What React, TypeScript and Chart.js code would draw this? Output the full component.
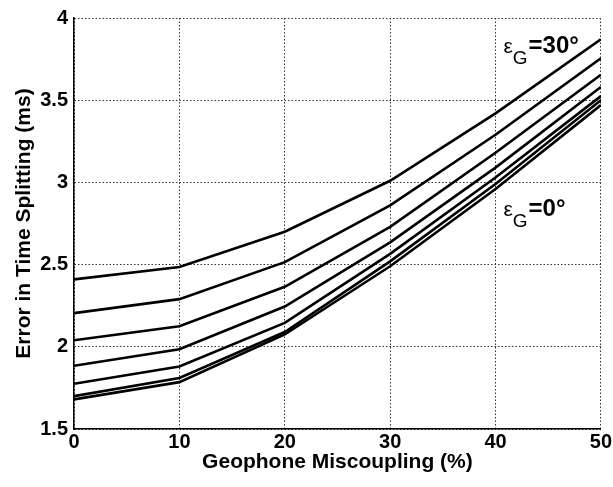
import React, { useEffect, useRef } from "react";
import { Chart, registerables } from "chart.js";

Chart.register(...registerables);

const miscoupling = [0, 10, 20, 30, 40, 50];
const epsG30 = [2.41, 2.485, 2.70, 3.01, 3.42, 3.87];
const epsG25 = [2.205, 2.29, 2.515, 2.86, 3.29, 3.755];
const epsG20 = [2.04, 2.125, 2.365, 2.73, 3.18, 3.655];
const epsG15 = [1.885, 1.985, 2.245, 2.635, 3.09, 3.58];
const epsG10 = [1.775, 1.88, 2.145, 2.565, 3.03, 3.525];
const epsG5 = [1.70, 1.81, 2.09, 2.52, 2.99, 3.50];
const epsG0 = [1.68, 1.785, 2.075, 2.49, 2.96, 3.47];
const seriesList = [epsG30, epsG25, epsG20, epsG15, epsG10, epsG5, epsG0];

const xTickValues = [0, 10, 20, 30, 40, 50];
const yTickValues = [1.5, 2, 2.5, 3, 3.5, 4];

const annotTop = { x: 40.75, y: 3.79, text: "=30°" };
const annotBottom = { x: 40.75, y: 2.796, text: "=0°" };

const FONT = '"Liberation Sans", Arial, Helvetica, sans-serif';

const labelPlugin = {
  id: "epsLabels",
  afterDatasetsDraw(chart: any) {
    const { ctx, scales } = chart;
    const xs = scales.x;
    const ys = scales.y;
    const draw = (a: { x: number; y: number; text: string }) => {
      const px = xs.getPixelForValue(a.x);
      const py = ys.getPixelForValue(a.y);
      ctx.save();
      ctx.fillStyle = "#000";
      ctx.textAlign = "left";
      ctx.textBaseline = "alphabetic";
      ctx.font = `21px ${FONT}`;
      ctx.fillText("ε", px, py);
      const we = ctx.measureText("ε").width;
      ctx.font = `19px ${FONT}`;
      const gx = px + we;
      ctx.fillText("G", gx, py + 11);
      const wg = ctx.measureText("G").width;
      ctx.font = `bold 24px ${FONT}`;
      ctx.fillText(a.text, gx + wg + 1, py);
      ctx.restore();
    };
    draw(annotTop);
    draw(annotBottom);
  },
};

export default function App() {
  const canvasRef = useRef<HTMLCanvasElement | null>(null);

  useEffect(() => {
    const canvas = canvasRef.current;
    if (!canvas) return;
    const datasets = seriesList.map((s) => ({
      data: miscoupling.map((m, i) => ({ x: m, y: s[i] })),
      borderColor: "#000",
      backgroundColor: "#000",
      borderWidth: 2.6,
      pointRadius: 0,
      tension: 0,
      fill: false,
    }));
    const chart = new Chart(canvas, {
      type: "line",
      data: { datasets },
      plugins: [labelPlugin],
      options: {
        animation: false,
        responsive: true,
        maintainAspectRatio: false,
        layout: { padding: { top: 18, right: 12, left: 0, bottom: 0 } },
        plugins: {
          legend: { display: false },
          tooltip: { enabled: false },
        },
        scales: {
          x: {
            type: "linear",
            min: 0,
            max: 50,
            afterBuildTicks: (scale: any) => {
              scale.ticks = xTickValues.map((v) => ({ value: v }));
            },
            afterFit: (scale: any) => {
              scale.height = 58;
            },
            ticks: {
              color: "#000",
              font: { family: FONT, size: 20, weight: "bold" },
              padding: 1,
              maxRotation: 0,
              autoSkip: false,
            },
            grid: {
              color: "#333",
              lineWidth: 1,
              drawTicks: false,
            },
            border: { display: true, color: "#000", width: 1.5, dash: [1.5, 2] },
            title: {
              display: true,
              text: "Geophone Miscoupling (%)",
              color: "#000",
              font: { family: FONT, size: 21, weight: "bold" },
              padding: { top: 0, bottom: 12 },
            },
          },
          y: {
            type: "linear",
            min: 1.5,
            max: 4,
            afterBuildTicks: (scale: any) => {
              scale.ticks = yTickValues.map((v) => ({ value: v }));
            },
            afterFit: (scale: any) => {
              scale.width = 74;
            },
            ticks: {
              color: "#000",
              font: { family: FONT, size: 20, weight: "bold" },
              padding: 6,
              autoSkip: false,
              callback: (v: any) => String(v),
            },
            grid: {
              color: "#333",
              lineWidth: 1,
              drawTicks: false,
            },
            border: { display: true, color: "#000", width: 1.5, dash: [1.5, 2] },
            title: {
              display: true,
              text: "Error in Time Splitting (ms)",
              color: "#000",
              font: { family: FONT, size: 21, weight: "bold" },
              padding: { top: 12, bottom: 0 },
            },
          },
        },
      } as any,
    });
    return () => chart.destroy();
  }, []);

  return (
    <div style={{ position: "absolute", left: 0, top: 0, width: 613, height: 487, background: "#fff" }}>
      <canvas ref={canvasRef} />
    </div>
  );
}
